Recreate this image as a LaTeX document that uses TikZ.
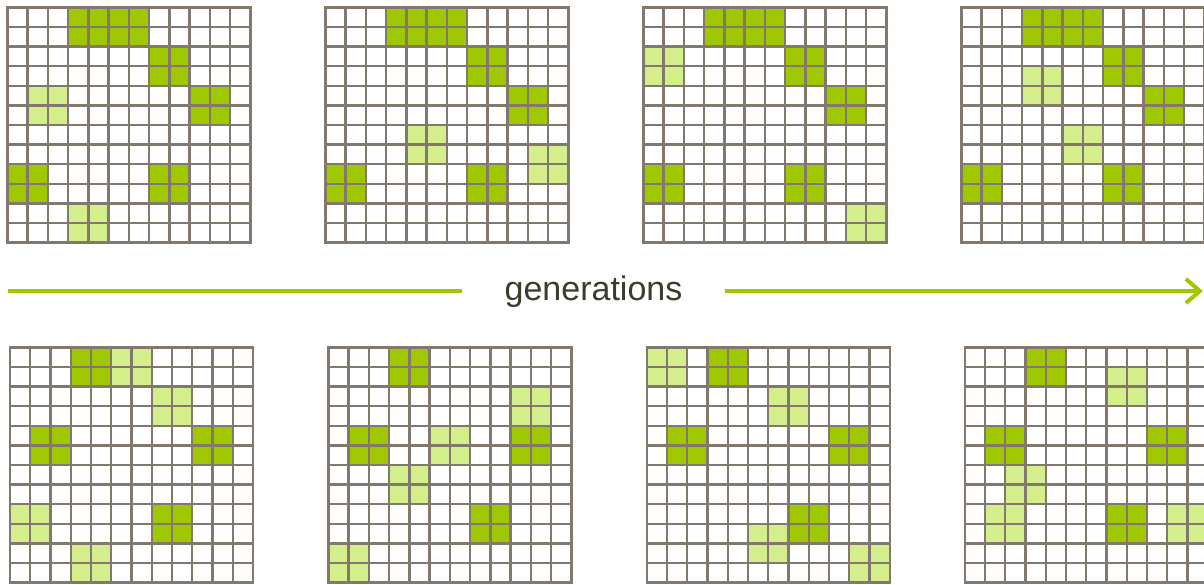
\documentclass[tikz,border=0pt]{standalone}
\usepackage{fontspec}
\setmainfont{Liberation Sans}
\usetikzlibrary{arrows.meta}
\definecolor{dkgreen}{RGB}{160,200,0}
\definecolor{ltgreen}{RGB}{212,238,140}
\definecolor{gridgray}{RGB}{130,120,110}
\definecolor{txtgray}{RGB}{60,60,45}
\newcommand\cw{20.25}
\newcommand\ch{19.6}
\newcommand\lifegrid[5]{%
  \begin{scope}[shift={(#2,#3)}]
    \coordinate (#1) at (0,0);
    \foreach \r/\c in {#4} \fill[dkcell] ({\c*\cw},{\r*\ch}) rectangle ++({2*\cw},{2*\ch});
    \foreach \r/\c in {#5} \fill[ltcell] ({\c*\cw},{\r*\ch}) rectangle ++({2*\cw},{2*\ch});
    \foreach \i in {0,...,12} {
      \draw[gridline] ({\i*\cw},0) -- ({\i*\cw},{12*\ch});
      \draw[gridline] (0,{\i*\ch}) -- ({12*\cw},{\i*\ch});
    }
  \end{scope}}
\tikzset{
  dkcell/.style={fill=dkgreen},
  ltcell/.style={fill=ltgreen},
  gridline/.style={draw=gridgray, line width=2.4pt, line cap=rect},
  arrowline/.style={draw=dkgreen, line width=4pt},
  lbl/.style={text=txtgray, font=\fontsize{34}{40}\selectfont, inner xsep=42pt, inner ysep=0pt}
}
\begin{document}
\begin{tikzpicture}[x=1pt,y=-1pt]
\useasboundingbox (0,0) rectangle (1204,584);
\fill[white] (0,0) rectangle (1204,584);
% top row
\lifegrid{g1}{7.3}{7.3}{0/3,0/5,2/7,4/9,8/0,8/7}{4/1,10/3}
\lifegrid{g2}{325.3}{7.3}{0/3,0/5,2/7,4/9,8/0,8/7}{6/4,7/10}
\lifegrid{g3}{643.3}{7.3}{0/3,0/5,2/7,4/9,8/0,8/7}{2/0,10/10}
\lifegrid{g4}{961.3}{7.3}{0/3,0/5,2/7,4/9,8/0,8/7}{3/3,6/5}
% bottom row
\lifegrid{g5}{10}{347.3}{0/3,4/1,4/9,8/7}{0/5,2/7,8/0,10/3}
\lifegrid{g6}{328.3}{347.3}{0/3,4/1,4/9,8/7}{2/9,4/5,6/3,10/0}
\lifegrid{g7}{646.7}{347.3}{0/3,4/1,4/9,8/7}{0/0,2/6,9/5,10/10}
\lifegrid{g8}{964.7}{347.3}{0/3,4/1,4/9,8/7}{1/7,6/2,8/1,8/10}
% generations arrow
\coordinate (astart) at (8,291);
\coordinate (aend) at (1203,291);
\node[lbl, anchor=base] (lbl) at (593.5,300) {generations};
\draw[arrowline] (astart) -- (lbl.west |- astart);
\draw[arrowline, -{Straight Barb[length=14pt,width=24pt]}] (lbl.east |- astart) -- (aend);
\end{tikzpicture}
\end{document}
